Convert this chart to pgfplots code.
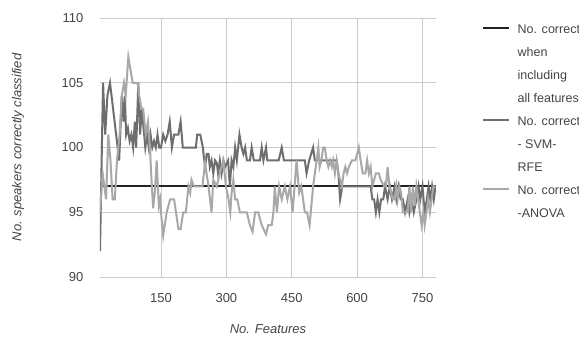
\documentclass[border=0pt]{standalone}
\usepackage{pgfplots}
\pgfplotsset{compat=1.18}
\usepackage{fontspec}
\setmainfont{Liberation Sans}
\definecolor{cAll}{HTML}{222222}
\definecolor{cSvm}{HTML}{6E6E6E}
\definecolor{cAnova}{HTML}{A8A8A8}
\definecolor{cText}{HTML}{444444}
\definecolor{cGrid}{HTML}{CCCCCC}
\begin{document}
\begin{tikzpicture}[x=1pt,y=1pt]
\useasboundingbox (-75pt,-47.25pt) rectangle (359.25pt,207.75pt);
\begin{axis}[
  at={(0,0)}, anchor=south west,
  scale only axis, width=252pt, height=194.25pt,
  xmin=10, xmax=781, ymin=90, ymax=110,
  xtick={150,300,450,600,750}, ytick={90,95,100,105,110},
  axis line style={draw=none}, tick style={draw=none},
  grid=major, major grid style={cGrid, line width=0.75pt},
  /pgf/number format/assume math mode=true,
  /pgf/number format/1000 sep={},
  ticklabel style={font=\fontsize{9.75}{11}\selectfont, text=cText},
  yticklabel style={xshift=-9pt},
  xticklabel style={yshift=-9pt},
  xlabel={No. Features}, ylabel={No. speakers correctly classified},
  label style={font=\fontsize{9.75}{11}\selectfont\itshape, text=cText},
  xlabel style={at={(axis description cs:0.5,-0.2)}, anchor=center},
  ylabel style={at={(axis description cs:-0.244,0.5)}, anchor=center},
  legend style={draw=none, fill=none, at={(axis description cs:1,1)}, anchor=north west,
    xshift=34.5pt, yshift=-3.8pt, inner sep=0pt,
    font=\fontsize{9.4}{11}\selectfont, text=cText,
    nodes={inner sep=0pt, text height=7.3pt, text depth=2pt},
    row sep=7.95pt,
    /tikz/every odd column/.style={column sep=5.5pt}},
  legend cell align=left,
  legend image code/.code={\draw[#1] (0pt,0.8pt) -- (19.5pt,0.8pt);},
]
\addlegendimage{cAll, line width=1.5pt}
\addlegendentry{No. correct}
\addlegendimage{empty legend}
\addlegendentry{when}
\addlegendimage{empty legend}
\addlegendentry{including}
\addlegendimage{empty legend}
\addlegendentry{all features}
\addlegendimage{cSvm, line width=1.5pt}
\addlegendentry{No. correct}
\addlegendimage{empty legend}
\addlegendentry{- SVM-}
\addlegendimage{empty legend}
\addlegendentry{RFE}
\addlegendimage{cAnova, line width=1.5pt}
\addlegendentry{No. correct}
\addlegendimage{empty legend}
\addlegendentry{-ANOVA}

\addplot[cAll, line width=1.5pt, forget plot] coordinates {(10,97) (780,97)};

\addplot[cSvm, line width=1.5pt, forget plot] coordinates {
(10,92)(17,105)(22,101)(27,104)(33,105)(40,103)(47,101)(54,99)(60,104)(64,102)(67,104)(70,101)(74,101.5)(78,100.5)(82,101)(86,100)(90,102)(93,100)(98,105)(102,101)(106,103)(110,101.5)(114,100)(118,101)(122,100)(126,101)(130,100)(134,100.5)(138,100)(142,101)(146,100)(150,100)(155,101)(160,100.5)(165,101)(170,102)(175,100)(180,101)(186,101)(190,101)(195,102)(200,100)(230,100)(233,101)(240,101)(246,100)(251,98.5)(255,99.5)(259,99.5)(262,98.5)(266,99)(270,98)(274,99)(278,98.8)(281,98)(285,99)(289,98)(293,99)(297,98.5)(304,99)(308,97)(312,99)(316,98.5)(320,100)(324,99)(330,101)(335,100)(339,99.5)(343,100)(347,99)(354,99)(358,100)(363,99)(370,99)(377,99)(381,100)(385,99)(391,100)(394,99)(420,99)(427,100)(432,99)(480,99)(484,98)(490,99)(499,100)(503,99)(553,99)(557,98)(561,96)(566,97)(631,97)(635,96)(639,96)(643,95)(647,96)(651,95)(655,96)(660,96)(664,97)(670,96)(675,97)(680,96)(686,97)(690,96)(695,97)(700,96)(705,96)(710,95)(716,96)(720,95)(725,96)(730,95)(736,96)(741,97)(745,96)(750,97)(755,95)(760,96)(764,97)(768,96)(772,97)(776,96)(780,97)
};

\addplot[cAnova, line width=1.5pt, forget plot] coordinates {
(10,95)(16,98)(24,96)(29,101)(34,99)(39,96)(44,96)(49,99)(55,101)(60,104)(65,105)(69,104)(75,107)(80,106)(85,105)(96,105)(100,104)(105,103)(109,103)(115,101)(120,102)(125,99.7)(128,97.6)(132,95.3)(136,96.6)(140,99)(145,95.5)(148,96)(150,95)(155,93.2)(163,95)(171,96)(180,96)(190,93.7)(195,93.7)(201,95)(207,95)(213,97)(217,96.5)(220,97.5)(225,97)(245,97)(251,98.8)(259,97)(266,95)(270,97.5)(278,97)(285,98)(289,98.5)(293,99)(299,97)(305,96)(309,95)(312,96.5)(316,97.5)(320,96)(325,96)(331,95)(339,95)(347,95)(354,94)(360,93.5)(366,95)(373,95)(381,94)(391,93.3)(396,94)(404,94)(408,95)(411,97)(416,95)(421,97)(427,96)(434,97)(440,96)(446,97)(452,95)(461,99)(467,96.5)(472,97)(476,96)(480,95)(485,95)(491,94)(499,97)(507,99)(511,100)(514,98.5)(518,99)(522,100)(526,100)(530,99)(534,98.5)(538,99)(542,98.5)(545,99)(549,98)(553,99)(557,98)(565,97)(569,98)(573,98.5)(577,98)(581,98.5)(588,99)(596,99)(604,100)(608,99)(613,98)(619,98)(623,99)(627,98)(631,98.5)(635,97)(643,98)(650,98)(654,97.5)(662,97)(666,97)(670,98.5)(674,97)(682,96)(686,96)(690,97)(693,96)(697,97)(701,96.5)(705,95)(709,95)(716,95)(720,97)(724,95)(728,97)(732,95.5)(736,97)(740,96)(748,94)(752,95)(755,94)(759,95)(763,96)(767,95)(771,96)(775,97)(780,97)
};
\end{axis}
\end{tikzpicture}
\end{document}
